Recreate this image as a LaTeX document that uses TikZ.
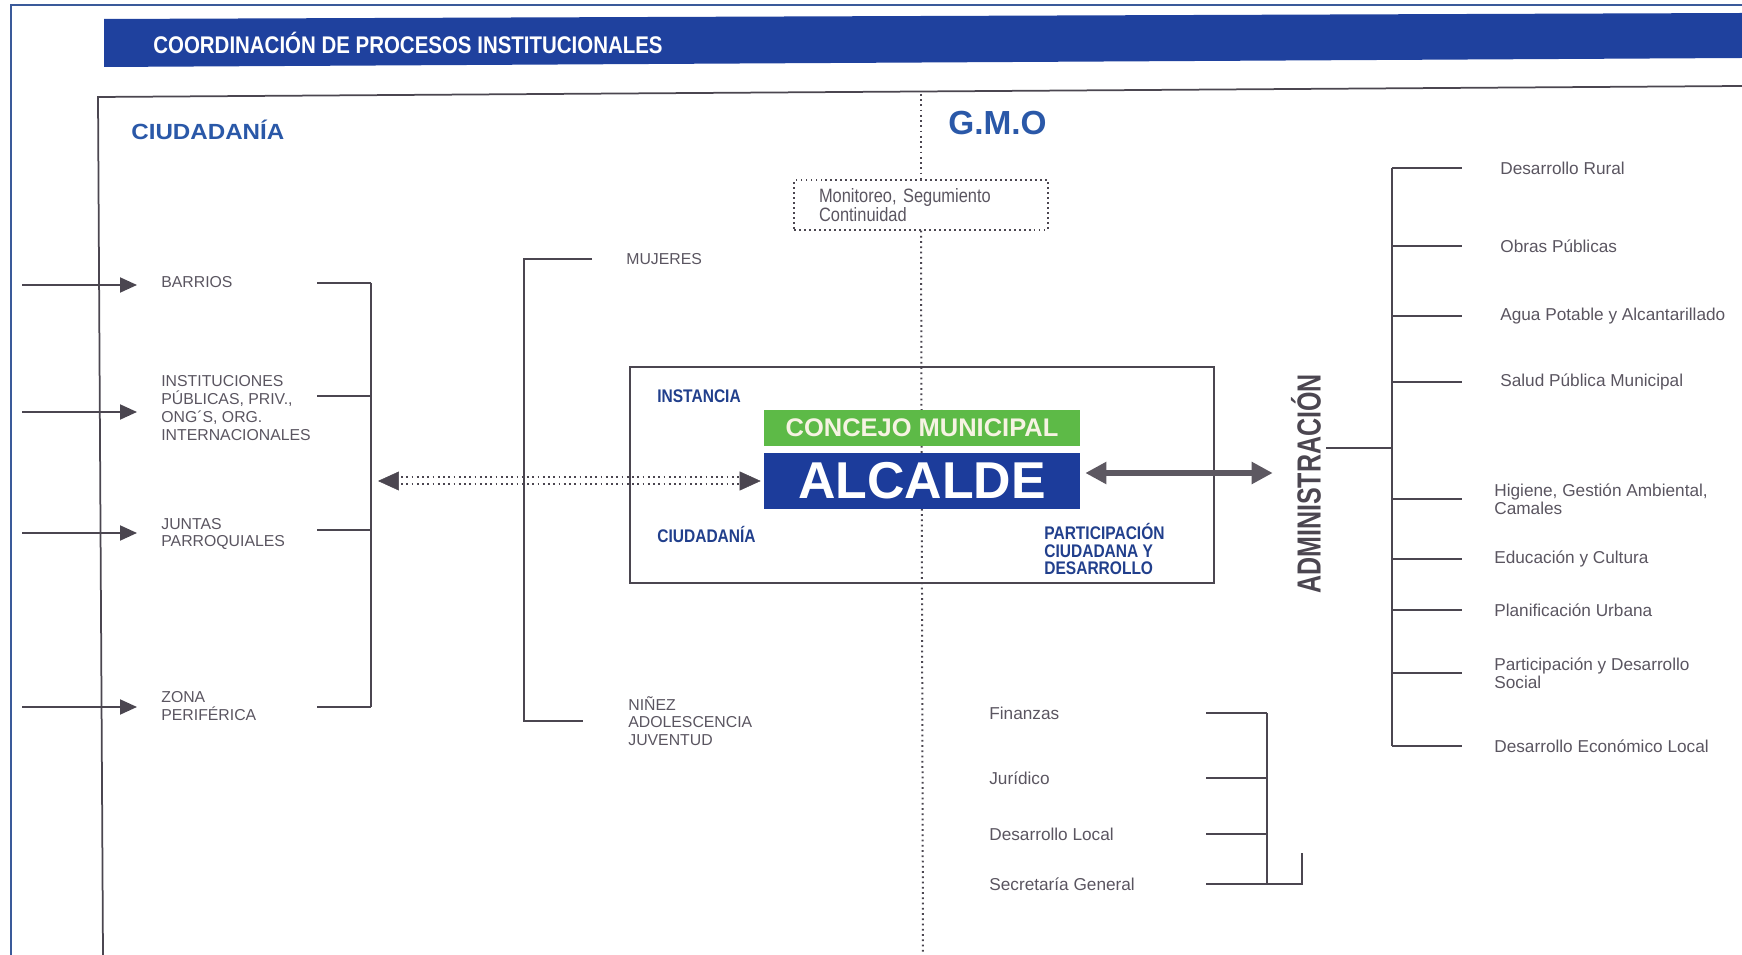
\documentclass[tikz,border=0pt]{standalone}
\usepackage{fontspec}
\setmainfont{Liberation Sans}
\newfontfamily\condface[FakeStretch=0.85]{Liberation Sans}
\newfontfamily\narrowface[FakeStretch=0.75]{Liberation Sans}
\newfontfamily\wideface[FakeStretch=1.1]{Liberation Sans}
\usetikzlibrary{arrows.meta,positioning,calc}
\definecolor{Frame}{HTML}{3A5A9A}
\definecolor{Band}{HTML}{1F419E}
\definecolor{Head}{HTML}{2A58A8}
\definecolor{Navy}{HTML}{213F8C}
\definecolor{Mayor}{HTML}{1C3C9B}
\definecolor{Council}{HTML}{5DBA47}
\definecolor{Cream}{HTML}{F6F3E2}
\definecolor{Wire}{HTML}{4B4650}
\definecolor{Txt}{HTML}{5A5560}
\tikzset{
  wire/.style={Wire,line width=0.04cm},
  dots/.style={Wire,line width=0.04cm,dash pattern=on 0.035cm off 0.07cm},
  lbl/.style={anchor=west,inner sep=0pt,text=Txt,align=left,font=\fontsize{9}{10.1}\selectfont},
  unit/.style={anchor=west,inner sep=0pt,text=Txt,align=left,font=\fontsize{9.8}{10.1}\selectfont},
  tag/.style={anchor=west,inner sep=0pt,text=Navy,align=left,font=\condface\bfseries\fontsize{10.4}{10.1}\selectfont},
  arr/.style={wire,-{Triangle[length=0.34cm,width=0.3cm]}},
  bigarr/.style={Wire!90,line width=0.12cm,{Triangle[length=0.42cm,width=0.42cm]}-{Triangle[length=0.42cm,width=0.42cm]}},
  bar/.style={minimum width=6.32cm,inner sep=0pt,font=\bfseries}
}
\begin{document}
\begin{tikzpicture}[x=0.02cm,y=-0.02cm]
\useasboundingbox (0,0) rectangle (1742,955);
% page frame and title band
\draw[Frame,line width=0.04cm] (11,955) -- (11,5) -- (1742,5);
\fill[Band] (104,19) -- (1742,13) -- (1742,58) -- (104,67) -- cycle;
\node[anchor=west,inner sep=0pt,text=white,font=\condface\bfseries\fontsize{13.7}{15}\selectfont] (title) at (153,43) {COORDINACIÓN DE PROCESOS INSTITUCIONALES};
\draw[Wire,line width=0.035cm] (103,955) -- (98,97) -- (1742,86);
\node[anchor=west,inner sep=0pt,text=Head,font=\wideface\bfseries\fontsize{12.5}{14}\selectfont] (ciudadania) at (131,130) {CIUDADANÍA};
\node[anchor=west,inner sep=0pt,text=Head,font=\bfseries\fontsize{19}{21}\selectfont] (gmo) at (948,123) {G.M.O};

% G.M.O axis
\node[draw=Wire,line width=0.03cm,dash pattern=on 0.03cm off 0.07cm,text width=4.08cm,inner xsep=0.5cm,minimum height=1cm,align=left,text=Txt,font=\condface\fontsize{11}{10.8}\selectfont] (monitoreo) at (921,205) {Monitoreo, Segumiento\\Continuidad};
\draw[dots] (921,94) -- (monitoreo.north);
\draw[dots] (monitoreo.south) -- (923,955);

% centre
\node[bar,fill=Council,minimum height=0.72cm,text=Cream,font=\bfseries\fontsize{14.5}{16}\selectfont] (concejo) at (922,428) {CONCEJO MUNICIPAL};
\node[bar,fill=Mayor,minimum height=1.12cm,text=white,font=\bfseries\fontsize{29.5}{31}\selectfont] (alcalde) at (922,481) {ALCALDE};
\coordinate (lbk) at (371,0);
\draw[white,line width=0.01cm,{Triangle[length=0.42cm,width=0.38cm,color=Wire]}-{Triangle[length=0.42cm,width=0.38cm,color=Wire]},shorten <=0.14cm,shorten >=0.06cm] (alcalde.west -| lbk) -- (alcalde.west);
\draw[dots] ([xshift=0.5cm,yshift=0.07cm]alcalde.west -| lbk) -- ([xshift=-0.45cm,yshift=0.07cm]alcalde.west);
\draw[dots] ([xshift=0.5cm,yshift=-0.07cm]alcalde.west -| lbk) -- ([xshift=-0.45cm,yshift=-0.07cm]alcalde.west);
\node[draw=Wire,line width=0.035cm,minimum width=11.68cm,minimum height=4.32cm] (instbox) at (922,475) {};
\node[tag] (instancia) at (657,396) {INSTANCIA};
\node[tag] (ciudbox) at (657,534) {CIUDADANÍA};
\node[tag] (partic) at (1044,549) {PARTICIPACIÓN\\CIUDADANA Y\\DESARROLLO};

% ciudadania
\coordinate (src) at (22,0);
\coordinate (lst) at (317,0);
\node[lbl] (barrios) at (161,282) {BARRIOS};
\node[lbl] (entes) at (161,408) {INSTITUCIONES\\PÚBLICAS, PRIV.,\\ONG´S, ORG.\\INTERNACIONALES};
\node[lbl] (juntas) at (161,534) {JUNTAS\\PARROQUIALES};
\node[lbl] (zona) at (161,706) {ZONA\\PERIFÉRICA};
\foreach \n/\dy in {barrios/3,entes/4,juntas/-1,zona/1}{
  \draw[arr,shorten >=0.48cm] ($(\n.west -| src)+(0,\dy)$) -- ($(\n.west)+(0,\dy)$);
}
\foreach \n/\dy in {barrios/1,entes/-12,juntas/-4,zona/1}{
  \draw[wire] ($(\n.west -| lst)+(0,\dy)$) -- ($(\n.west -| lbk)+(0,\dy)$);
}
\draw[wire] ($(barrios.west -| lbk)+(0,1)$) -- ($(zona.west -| lbk)+(0,1)$);

\coordinate (mbk) at (524,0);
\node[lbl] (mujeres) at (626,259) {MUJERES};
\node[lbl] (ninez) at (628,721) {NIÑEZ\\ADOLESCENCIA\\JUVENTUD};
\draw[wire] ($(mujeres.west)+(-34,0)$) -| (mbk |- ninez.west) -- ($(ninez.west)+(-45,0)$);

% administracion
\coordinate (axle) at (0,473);
\coordinate (stub) at (0,448);
\coordinate (rbk) at (1392,0);
\coordinate (rend) at (1462,0);
\node[rotate=90,inner sep=0pt,text=Wire,font=\narrowface\bfseries\fontsize{19}{21}\selectfont] (admin) at (1306,484) {ADMINISTRACIÓN};
\draw[bigarr,shorten <=0.1cm,shorten >=0.36cm] (alcalde.east |- axle) -- (admin.north |- axle);
\draw[wire] ([xshift=0.1cm]admin.south |- stub) -- (rbk |- stub);
\node[unit] (rural) at (1500,168) {Desarrollo Rural};
\node[unit] (obras) at (1500,246) {Obras Públicas};
\node[unit] (agua) at (1500,316) {Agua Potable y Alcantarillado};
\node[unit] (salud) at (1500,382) {Salud Pública Municipal};
\node[unit] (higiene) at (1494,499) {Higiene, Gestión Ambiental,\\Camales};
\node[unit] (educa) at (1494,559) {Educación y Cultura};
\node[unit] (plan) at (1494,610) {Planificación Urbana};
\node[unit] (social) at (1494,673) {Participación y Desarrollo\\Social};
\node[unit] (econ) at (1494,746) {Desarrollo Económico Local};
\foreach \n in {rural,obras,agua,salud,higiene,educa,plan,social,econ}{
  \draw[wire] (\n.west -| rbk) -- (\n.west -| rend);
}
\draw[wire] (rural.west -| rbk) -- (econ.west -| rbk);

% support units
\coordinate (bst) at (1206,0);
\coordinate (bbk) at (1267,0);
\coordinate (bhk) at (1302,0);
\node[unit] (finanzas) at (989,713) {Finanzas};
\node[unit] (juridico) at (989,778) {Jurídico};
\node[unit] (deslocal) at (989,834) {Desarrollo Local};
\node[unit] (secretaria) at (989,884) {Secretaría General};
\foreach \n in {finanzas,juridico,deslocal,secretaria}{
  \draw[wire] (\n.west -| bst) -- (\n.west -| bbk);
}
\draw[wire] (finanzas.west -| bbk) -- (secretaria.west -| bbk) -- (secretaria.west -| bhk) -- ++(0,-31);
\end{tikzpicture}
\end{document}
